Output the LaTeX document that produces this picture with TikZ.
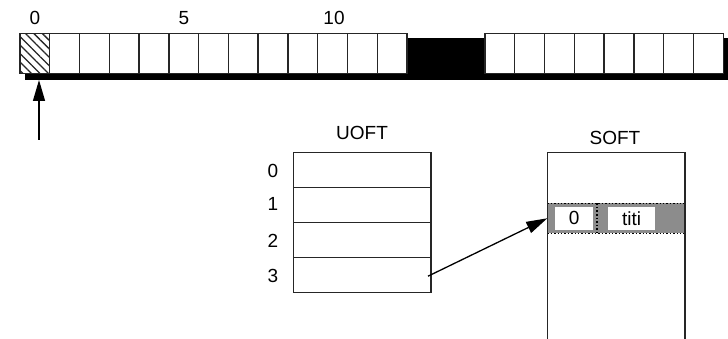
\documentclass[tikz,border=0pt]{standalone}
\usepackage{fontspec}
\setmainfont{Liberation Sans}
\usetikzlibrary{arrows.meta,patterns.meta}
\begin{document}
\begin{tikzpicture}[x=1pt,y=-1pt,
  cellbox/.style={draw=black!85, line width=1.4pt, fill=white, minimum width=29.77pt, minimum height=40pt, inner sep=0pt, outer sep=0pt, anchor=north west},
  rowbox/.style={draw=black!85, line width=1.4pt, fill=white, minimum width=137.7pt, minimum height=35pt, inner sep=0pt, outer sep=0pt, anchor=north west},
  lbl/.style={inner sep=0pt, font=\fontsize{19}{19}\selectfont},
  ptrarrow/.style={line width=1.3pt, -{Triangle[length=21pt,width=12pt]}},
  inbox/.style={fill=white, draw=none, minimum height=23.3pt, inner sep=0pt, font=\fontsize{19}{19}\selectfont}
]
\useasboundingbox (0,0) rectangle (728,339);

% shadow bar
\node[fill=black, minimum width=703pt, minimum height=42pt, inner sep=0pt, outer sep=0pt, anchor=north west] (bar) at (25,38) {};

% top cells
\foreach \i in {0,...,12} {
  \node[cellbox] (c\i) at (20+\i*29.77,33.3) {};
}
\foreach \j in {0,...,7} {
  \node[cellbox, minimum width=29.79pt] (r\j) at (485+\j*29.79,33.3) {};
}
\path[pattern={Lines[angle=-45,distance=6pt,line width=1.3pt]}, pattern color=black!85] (c0.north west) rectangle (c0.south east);
\draw[draw=black!85, line width=1.4pt] (c0.north west) rectangle (c0.south east);

\node[lbl] (n0) at (35,18) {0};
\node[lbl] (n5) at (184,18) {5};
\node[lbl] (n10) at (334,18) {10};

% pointer arrow
\coordinate (ptail) at (39,140);
\draw[ptrarrow] (ptail) -- (ptail |- bar.south);

% UOFT
\node[lbl] (uoft) at (362,133) {UOFT};
\foreach \k in {0,...,3} {
  \node[rowbox] (u\k) at (293.3,152.7+\k*35) {};
}
\node[lbl] (l0) at (273,171) {0};
\node[lbl] (l1) at (273,204) {1};
\node[lbl] (l2) at (273,241) {2};
\node[lbl] (l3) at (273,276) {3};

% SOFT
\node[lbl] (softt) at (615,138) {SOFT};
\node[minimum width=137.7pt, minimum height=186.3pt, inner sep=0pt, outer sep=0pt, anchor=north west] (soft) at (547.3,152.7) {};
\node[fill=black!45, minimum width=137.7pt, minimum height=30pt, inner sep=0pt, outer sep=0pt, anchor=north west] (srow) at (547.3,203.3) {};
\draw[black, line width=1.4pt, dotted] (srow.north west) -- (srow.north east);
\draw[black, line width=1.4pt, dotted] (srow.south west) -- (srow.south east);
\draw[draw=black!85, line width=1.4pt] (soft.south west) -- (soft.north west) -- (soft.north east) -- (soft.south east);
\node[inbox, minimum width=38pt] (f0) at (574.2,218.3) {0};
\node[inbox, minimum width=46.7pt] (f1) at (631.7,218.3) {titi};
\draw[black, line width=1.6pt, dotted] (596.7,203.3) -- (596.7,233.3);

% link arrow
\coordinate (ustart) at ([xshift=-3pt,yshift=-1pt]u3.east);
\draw[ptrarrow] (ustart) -- (srow.west);
\end{tikzpicture}
\end{document}
